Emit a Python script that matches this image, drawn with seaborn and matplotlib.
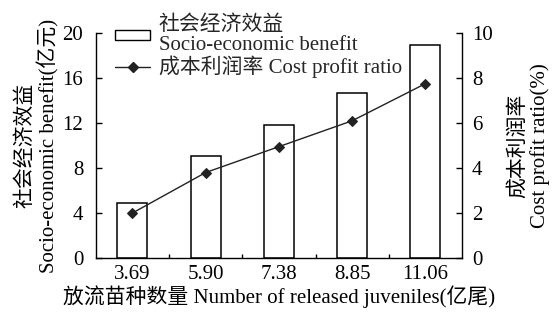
import matplotlib
matplotlib.use("Agg")
import matplotlib.pyplot as plt
import seaborn as sns
import pandas as pd
from matplotlib.patches import Patch
from matplotlib.lines import Line2D
from matplotlib.ticker import FixedLocator

# Data
juveniles = ["3.69", "5.90", "7.38", "8.85", "11.06"]
benefit = [4.85, 9.05, 11.85, 14.7, 18.95]
profit_ratio = [2.0, 3.8, 4.95, 6.1, 7.75]

df = pd.DataFrame({"juveniles": juveniles, "benefit": benefit, "ratio": profit_ratio})

FS = 15

sns.set_theme(style="white")
plt.rcParams["font.family"] = ["Liberation Serif", "Noto Sans CJK SC"]
plt.rcParams["axes.linewidth"] = 1.0

fig = plt.figure(figsize=(5.54, 3.16), dpi=100)
ax = fig.add_axes([0.173, 0.1835, 0.661, 0.712])

# Bars: socio-economic benefit
sns.barplot(data=df, x="juveniles", y="benefit", ax=ax, width=0.41,
            color="white", edgecolor="black", linewidth=1.1)

# Line: cost profit ratio on the right axis
ax2 = ax.twinx()
sns.pointplot(data=df, x="juveniles", y="ratio", ax=ax2, color="#222222",
              markers="D", markersize=5, linewidth=1.0)

for a in (ax, ax2):
    a.set_xlim(-0.5, 4.5)
    for s in a.spines.values():
        s.set_color("black")
        s.set_linewidth(1.0)
    a.spines["top"].set_visible(False)

ax.spines["right"].set_visible(False)
ax2.spines["left"].set_visible(False)
ax2.spines["bottom"].set_visible(False)

ax.set_ylim(0, 20)
ax.set_yticks([0, 4, 8, 12, 16, 20])
ax2.set_ylim(0, 10)
ax2.set_yticks([0, 2, 4, 6, 8, 10])

ax.tick_params(axis="y", direction="in", length=4, width=1.0, pad=9,
               labelsize=FS, left=True, colors="black")
ax2.tick_params(axis="y", direction="in", length=4, width=1.0, pad=7,
                labelsize=FS, right=True, colors="black")
ax.tick_params(axis="x", which="major", length=0, pad=5, labelsize=FS,
               colors="black")
ax.xaxis.set_minor_locator(FixedLocator([0.5, 1.5, 2.5, 3.5]))
ax.tick_params(axis="x", which="minor", direction="in", length=3, width=1.0,
               bottom=True, colors="black")

ax.set_xlabel("放流苗种数量 Number of released juveniles(亿尾)", fontsize=FS,
              labelpad=1, color="black")
ax.set_ylabel("社会经济效益\nSocio-economic benefit(亿元)", fontsize=FS,
              labelpad=2, color="black", linespacing=1.15)
ax2.set_ylabel("成本利润率\nCost profit ratio(%)", fontsize=FS,
               labelpad=11, color="black", linespacing=1.15)

handles = [
    Patch(facecolor="white", edgecolor="black", linewidth=1.0),
    Line2D([], [], color="#222222", marker="D", markersize=5, linewidth=1.0),
]
labels = ["社会经济效益\nSocio-economic benefit", "成本利润率 Cost profit ratio"]
leg = ax.legend(handles, labels, loc="upper left", bbox_to_anchor=(0.029, 1.115),
                frameon=False, fontsize=FS, handlelength=1.7, handleheight=0.35,
                handletextpad=0.4, labelspacing=0.0, borderaxespad=0)
for t in leg.get_texts():
    t.set_linespacing(1.1)

fig.savefig("out.png", dpi=100)
